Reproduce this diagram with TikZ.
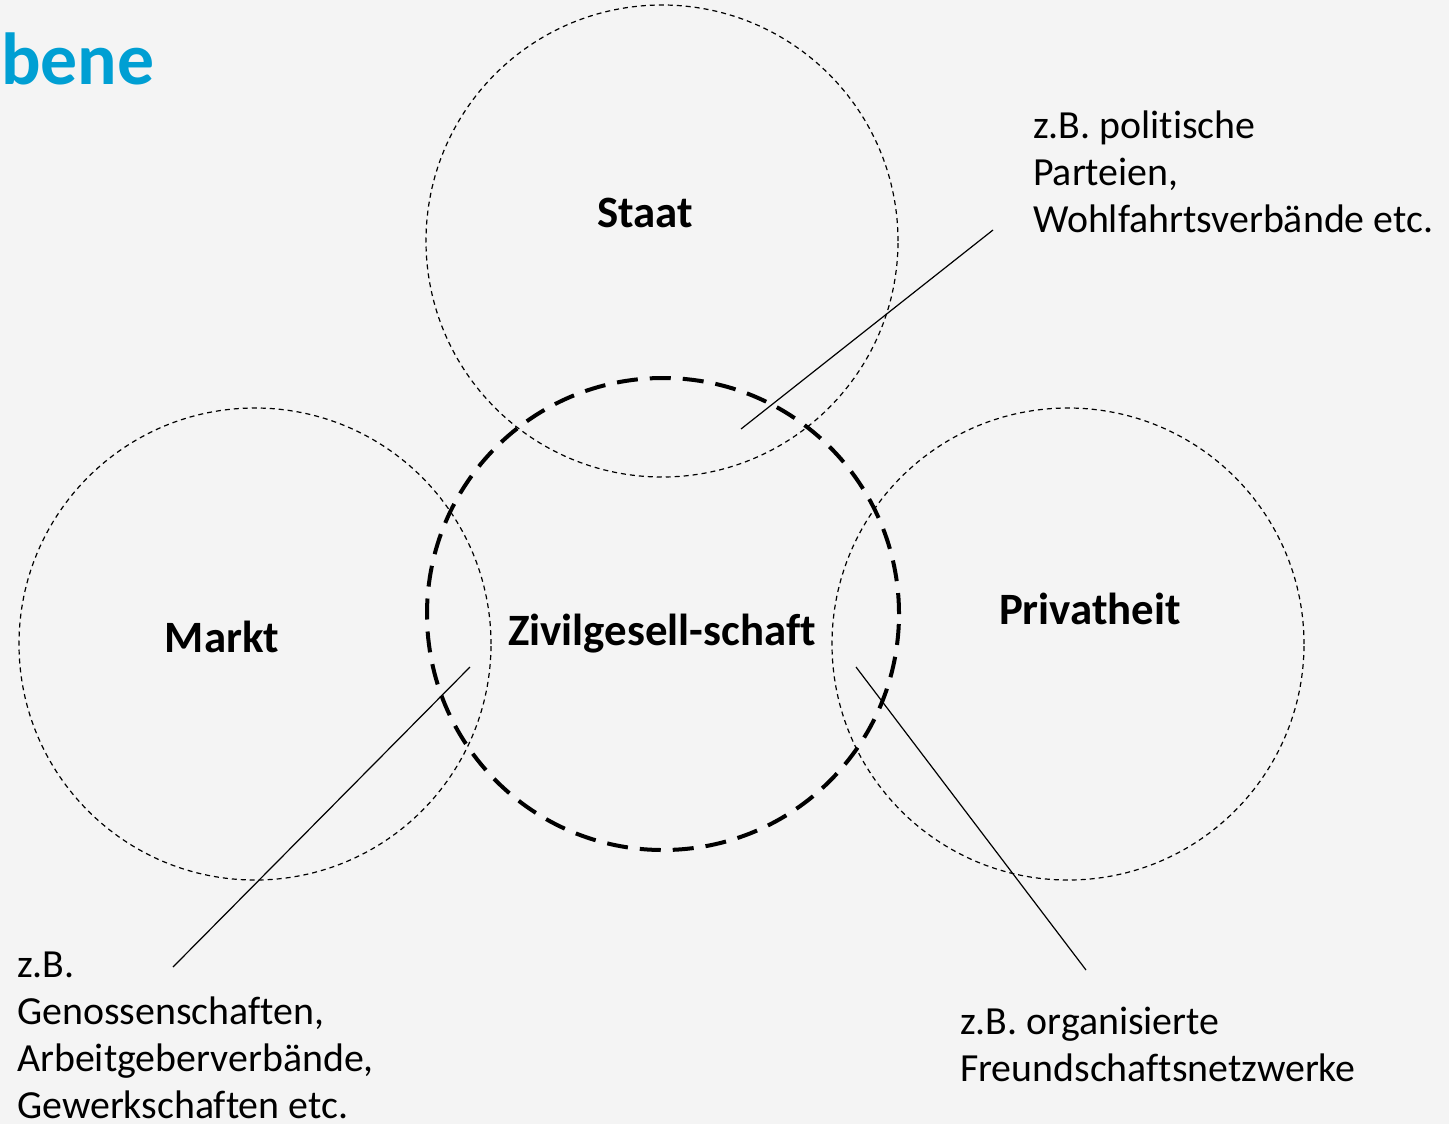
\documentclass[tikz,border=0pt]{standalone}
\usepackage{fontspec}
\setmainfont{Carlito}[Ligatures=NoCommon]
\usepackage{tikz}
\usetikzlibrary{positioning}
\definecolor{paper}{HTML}{F4F4F4}
\definecolor{titleblue}{HTML}{009FD3}

\begin{document}
\begin{tikzpicture}[x=1bp,y=-1bp,
	area/.style={circle,draw,minimum size=472bp,inner sep=0pt,line width=1.2bp,dash pattern=on 5bp off 4bp},
	core/.style={area,line width=4bp,dash pattern=on 21bp off 12bp},
	tag/.style={font=\fontsize{45}{54}\selectfont\bfseries,inner sep=0pt,anchor=base},
	hint/.style={font=\fontsize{40}{47}\selectfont,align=left,inner sep=0pt,anchor=base west}]
	\fill[paper] (0,0) rectangle (1449,1124);
	\useasboundingbox (0,0) rectangle (1449,1124);

	\node[area] (cStaat) at (662,241) {};
	\node[area] (cMarkt) at (255,644) {};
	\node[area] (cPriv)  at (1068,644) {};
	\node[core] (cZG)    at (663,614) {};

	\node[font=\fontsize{74}{80}\selectfont\bfseries,text=titleblue,inner sep=0pt,anchor=base west] (Title) at (1,84) {bene};

	\node[tag] (Staat) at (645,227) {Staat};
	\node[tag] (Markt) at (222,652) {Markt};
	\node[tag] (ZG)    at (662,645) {Zivilgesell-schaft};
	\node[tag] (Priv)  at (1090,624) {Privatheit};

	% base = last line
	\node[hint] (nStaat) at (1033,232) {z.B. politische\\Parteien,\\Wohlfahrtsverbände etc.};
	\node[hint] (nMarkt) at (17,1118) {z.B.\\Genossenschaften,\\Arbeitgeberverbände,\\Gewerkschaften etc.};
	\node[hint] (nPriv)  at (960,1081) {z.B. organisierte\\Freundschaftsnetzwerke};

	\coordinate (sA) at (741,429);
	\coordinate (sB) at (993,230);
	\coordinate (mA) at (470,667);
	\coordinate (mB) at (173,967);
	\coordinate (pA) at (856,667);
	\coordinate (pB) at (1086,970);

	\draw [line width=1.2bp] (sA) -- (sB);
	\draw [line width=1.2bp] (mA) -- (mB);
	\draw [line width=1.2bp] (pA) -- (pB);
\end{tikzpicture}
\end{document}
